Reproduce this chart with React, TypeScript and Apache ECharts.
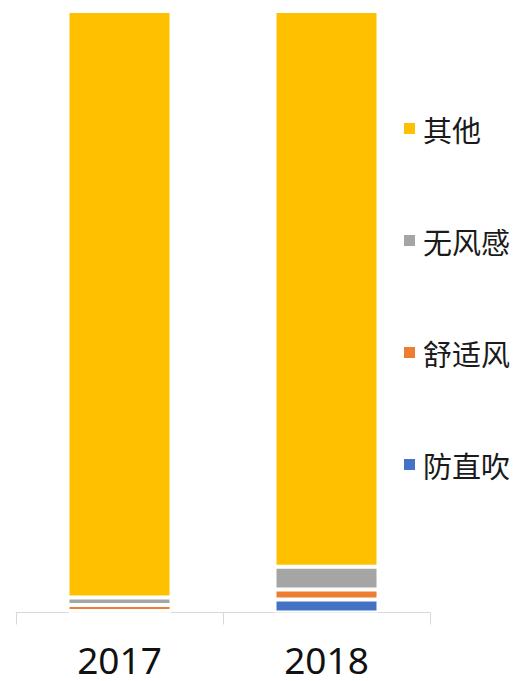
import React, { useEffect, useRef } from "react";
import * as echarts from "echarts";

const categories = ["2017", "2018"];
const seriesNames = ["防直吹", "舒适风", "无风感", "其他"];
const fangZhiChui = [0.25, 2.17];
const shuShiFeng = [1.0, 1.67];
const wuFengGan = [1.25, 3.75];
const qiTa = [97.5, 92.4];
const seriesValues = [fangZhiChui, shuShiFeng, wuFengGan, qiTa];
const colors = ["#4472C4", "#ED7D31", "#A5A5A5", "#FFC000"];
const legendOrder = ["其他", "无风感", "舒适风", "防直吹"];

export default function App() {
  const ref = useRef<HTMLDivElement>(null);
  useEffect(() => {
    if (!ref.current) return;
    const chart = echarts.init(ref.current, null, { renderer: "svg" });
    chart.setOption({
      animation: false,
      backgroundColor: "#ffffff",
      grid: { left: 16, right: 96, top: 11, bottom: 68.5 },
      legend: {
        orient: "vertical",
        left: 397,
        top: 109,
        itemGap: 83,
        itemWidth: 13,
        itemHeight: 13,
        icon: "rect",
        data: legendOrder,
        textStyle: {
          fontSize: 29,
          color: "#1a1a1a",
          fontFamily: "Noto Sans CJK SC",
          padding: [0, 0, 0, 2],
        },
      },
      xAxis: {
        type: "category",
        data: categories,
        axisLine: { lineStyle: { color: "#d9d9d9", width: 1 } },
        axisTick: { show: true, length: 12, lineStyle: { color: "#d9d9d9" } },
        axisLabel: {
          fontSize: 37,
          lineHeight: 37,
          color: "#111111",
          fontFamily: "Noto Sans",
          margin: 28,
        },
      },
      yAxis: {
        type: "value",
        min: 0,
        max: 100,
        show: false,
        splitLine: { show: false },
      },
      series: seriesNames.map((name, i) => ({
        name,
        type: "bar",
        stack: "total",
        barWidth: 104,
        data: seriesValues[i],
        itemStyle: {
          color: colors[i],
          borderColor: "#ffffff",
          borderWidth: 2,
        },
      })),
    });
    return () => chart.dispose();
  }, []);
  return (
    <div
      ref={ref}
      style={{ position: "fixed", left: 0, top: 0, width: 526, height: 681 }}
    />
  );
}
